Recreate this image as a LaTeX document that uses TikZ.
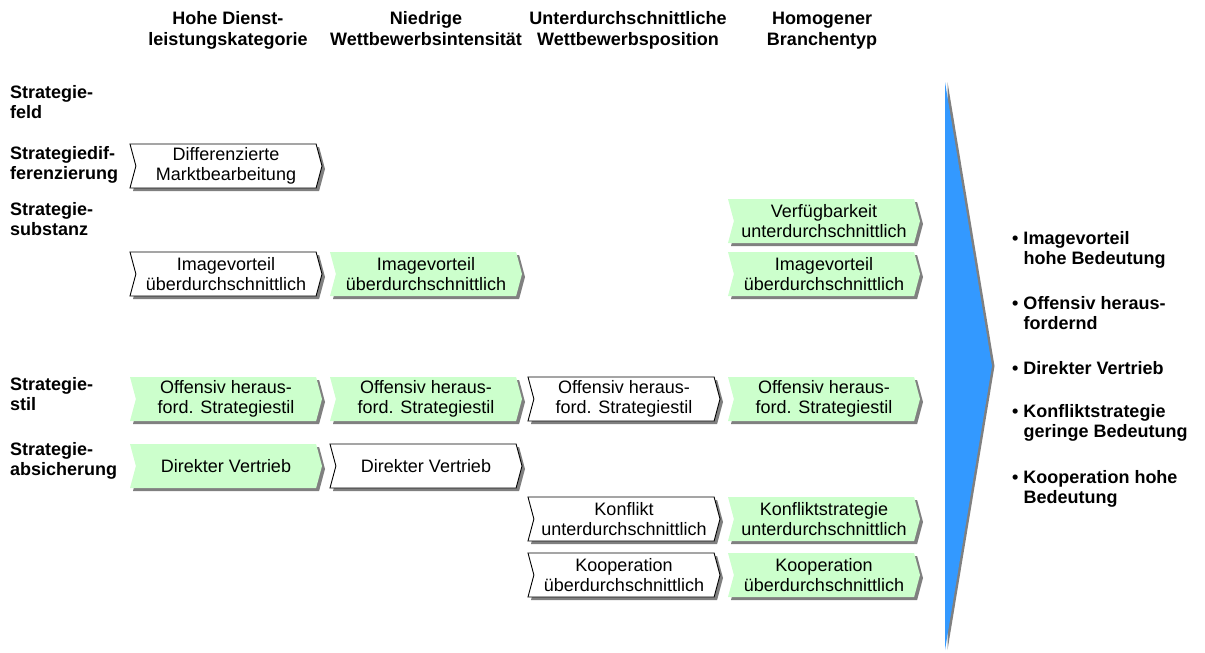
\documentclass[tikz,border=0pt]{standalone}
\usepackage{fontspec}
\setmainfont{Liberation Sans}
\usetikzlibrary{shapes.symbols,shadows}

\definecolor{boxgreen}{RGB}{204,255,204}
\definecolor{arrowblue}{RGB}{51,153,255}

\newcommand{\punkt}{\textbullet\ }
\newcommand{\einzug}{\phantom{\textbullet\ }}

\tikzset{
  pfeil/.style={shape=signal, signal to=east, signal from=west,
    signal pointer angle=150, minimum width=192pt, minimum height=44pt,
    inner xsep=0pt, inner ysep=0pt, align=center,
    drop shadow={shadow xshift=3pt, shadow yshift=-3pt, fill=black!50, opacity=1}},
  weiss/.style={pfeil, draw=black, fill=white, line width=0.9pt},
  gruen/.style={pfeil, fill=boxgreen},
  kopf/.style={font=\bfseries, align=center, inner sep=0pt},
  zeile/.style={font=\bfseries, align=left, anchor=west, inner sep=0pt},
}

\begin{document}
\fontsize{18}{20.5}\selectfont
\begin{tikzpicture}[x=1pt, y=-1pt]
  \useasboundingbox (0,0) rectangle (1205,653);

  % column heads
  \node[kopf] (k1) at (228,31) {\strut Hohe Dienst-\\leistungskategorie\strut};
  \node[kopf] (k2) at (426,31) {\strut Niedrige\\Wettbewerbsintensität\strut};
  \node[kopf] (k3) at (628,31) {\strut Unterdurchschnittliche\\Wettbewerbsposition\strut};
  \node[kopf] (k4) at (822,31) {\strut Homogener\\Branchentyp\strut};

  % row heads
  \node[zeile] (feld) at (10,102) {Strategie-\\feld};
  \node[zeile] (diff) at (10,165) {Strategiedif-\\ferenzierung};
  \node[zeile] (subst) at (10,219) {Strategie-\\substanz};
  \node[zeile] (stil) at (10,394) {Strategie-\\stil};
  \node[zeile] (absich) at (10,461) {Strategie-\\absicherung};

  % boxes
  \node[weiss] (diff1) at (226,166) {Differenzierte\\Marktbearbeitung};
  \node[gruen] (verf4) at (824,221) {Verfügbarkeit\\unterdurchschnittlich};

  \node[weiss] (img1) at (226,274) {Imagevorteil\\überdurchschnittlich};
  \node[gruen] (img2) at (426,274) {Imagevorteil\\überdurchschnittlich};
  \node[gruen] (img4) at (824,274) {Imagevorteil\\überdurchschnittlich};

  \node[gruen] (off1) at (226,399) {Offensiv heraus-\\ford. Strategiestil};
  \node[gruen] (off2) at (426,399) {Offensiv heraus-\\ford. Strategiestil};
  \node[weiss] (off3) at (624,399) {Offensiv heraus-\\ford. Strategiestil};
  \node[gruen] (off4) at (824,399) {Offensiv heraus-\\ford. Strategiestil};

  \node[gruen] (vert1) at (226,466) {Direkter Vertrieb};
  \node[weiss] (vert2) at (426,466) {Direkter Vertrieb};

  \node[weiss] (konf3) at (624,519) {Konflikt\\unterdurchschnittlich};
  \node[gruen] (konf4) at (824,519) {Konfliktstrategie\\unterdurchschnittlich};
  \node[weiss] (koop3) at (624,575) {Kooperation\\überdurchschnittlich};
  \node[gruen] (koop4) at (824,575) {Kooperation\\überdurchschnittlich};

  % big arrow
  \fill[arrowblue, drop shadow={shadow xshift=2.5pt, shadow yshift=0pt, fill=black!50, opacity=1}]
    (945,82) -- (992,366) -- (945,650) -- cycle;

  % result list
  \foreach \y/\txt [count=\i] in {
      250/{\punkt Imagevorteil\\\einzug hohe Bedeutung},
      313/{\punkt Offensiv heraus-\\\einzug fordernd},
      368/{\punkt Direkter Vertrieb},
      423/{\punkt Konfliktstrategie\\\einzug geringe Bedeutung},
      489/{\punkt Kooperation hohe\\\einzug Bedeutung}}
    \node[zeile] (erg\i) at (1012,\y) {\txt};
\end{tikzpicture}
\end{document}
